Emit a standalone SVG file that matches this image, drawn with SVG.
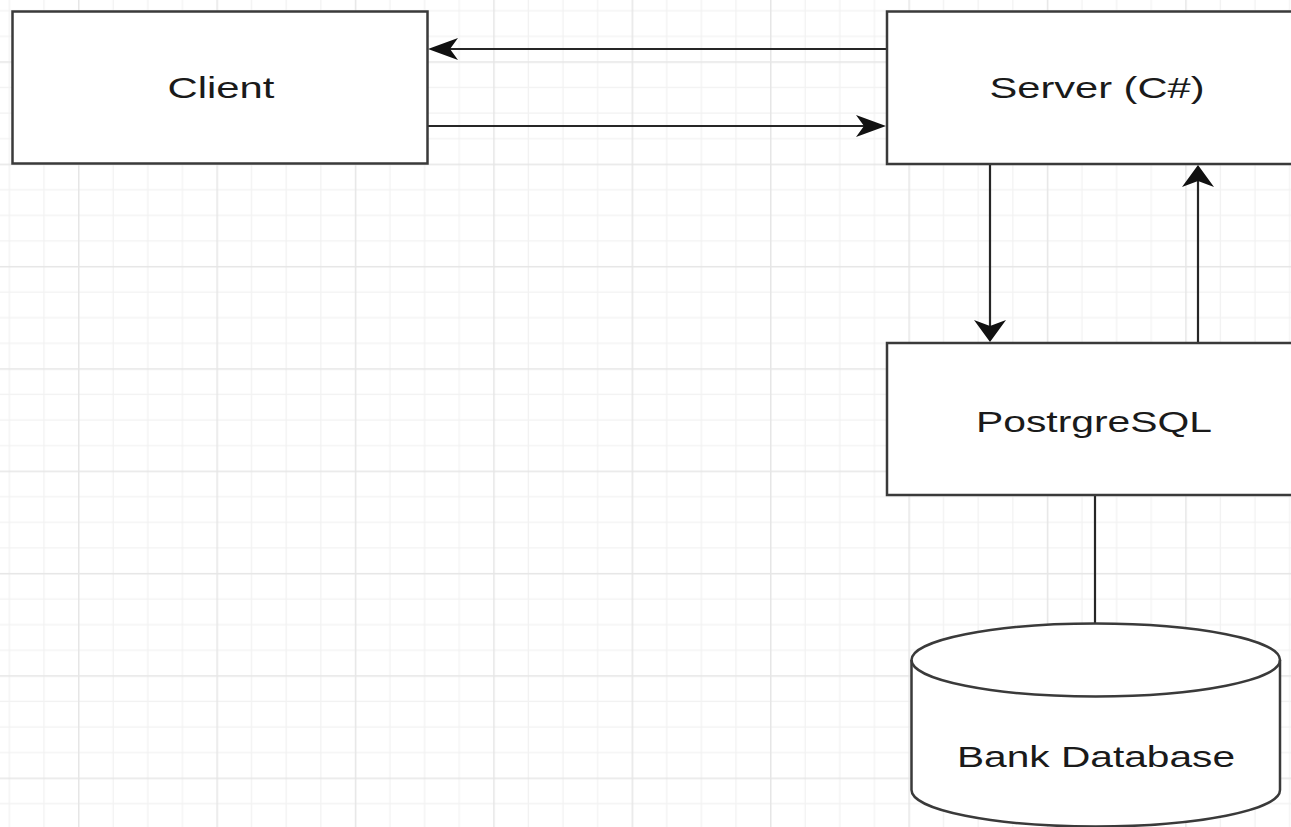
<svg xmlns="http://www.w3.org/2000/svg" width="1291" height="827" viewBox="0 0 1291 827">
  <style>
    .box { fill: #ffffff; stroke: #3a3a3a; stroke-width: 2.5; }
    .edge { fill: none; stroke: #262626; stroke-width: 2.2; }
    .lbl { font-family: "Liberation Sans", Arial, sans-serif; font-size: 30px; fill: #1a1a1a; text-anchor: middle; }
  </style>
  <defs>
    <pattern id="grid" patternUnits="userSpaceOnUse" x="78" y="61.3" width="138.4" height="102.32">
      <rect x="0" y="0" width="138.4" height="102.32" fill="#ffffff"/>
      <rect x="34.6" y="0" width="1.2" height="102.32" fill="#f2f2f2"/>
      <rect x="69.2" y="0" width="1.2" height="102.32" fill="#f2f2f2"/>
      <rect x="103.8" y="0" width="1.2" height="102.32" fill="#f2f2f2"/>
      <rect x="0" y="25.58" width="138.4" height="1.2" fill="#f2f2f2"/>
      <rect x="0" y="51.16" width="138.4" height="1.2" fill="#f2f2f2"/>
      <rect x="0" y="76.74" width="138.4" height="1.2" fill="#f2f2f2"/>
      <rect x="0" y="0" width="1.5" height="102.32" fill="#e6e6e6"/>
      <rect x="0" y="0" width="138.4" height="1.5" fill="#e6e6e6"/>
    </pattern>
    <marker id="ah" markerUnits="userSpaceOnUse" viewBox="0 -11 30 22" refX="8" refY="0" markerWidth="30" markerHeight="22" orient="auto">
      <path d="M0,-11 L30,0 L0,11 L8,0 Z" fill="#111111"/>
    </marker>
    <marker id="av" markerUnits="userSpaceOnUse" viewBox="0 -16 22 32" refX="6" refY="0" markerWidth="22" markerHeight="32" orient="auto">
      <path d="M0,-16 L22,0 L0,16 L6,0 Z" fill="#111111"/>
    </marker>
  </defs>

  <rect x="0" y="0" width="1291" height="827" fill="url(#grid)"/>

  <g id="connectors">
    <path class="edge" d="M887,49 L450,49" marker-end="url(#ah)"/>
    <path class="edge" d="M427,126 L864,126" marker-end="url(#ah)"/>
    <path class="edge" d="M990,164 L990,326" marker-end="url(#av)"/>
    <path class="edge" d="M1198,343 L1198,181" marker-end="url(#av)"/>
    <path class="edge" d="M1095,495 L1095,623.5"/>
  </g>

  <g id="client">
    <rect class="box" x="12.5" y="11.5" width="415" height="152"/>
    <text class="lbl" x="221" y="98" textLength="107" lengthAdjust="spacingAndGlyphs">Client</text>
  </g>

  <g id="server">
    <rect class="box" x="887" y="11.5" width="420" height="152.5"/>
    <text class="lbl" x="1097" y="98" textLength="215" lengthAdjust="spacingAndGlyphs">Server (C#)</text>
  </g>

  <g id="postgresql">
    <rect class="box" x="887" y="343" width="420" height="152"/>
    <text class="lbl" x="1094" y="432" textLength="236" lengthAdjust="spacingAndGlyphs">PostrgreSQL</text>
  </g>

  <g id="bank-database">
    <path class="box" d="M911.5,660 A184.25,36.5 0 0 1 1280,660 L1280,790 A184.25,36.5 0 0 1 911.5,790 Z"/>
    <path class="box" style="fill:none" d="M911.5,660 A184.25,36.5 0 0 0 1280,660"/>
    <text class="lbl" x="1096" y="767" textLength="278" lengthAdjust="spacingAndGlyphs">Bank Database</text>
  </g>
</svg>
